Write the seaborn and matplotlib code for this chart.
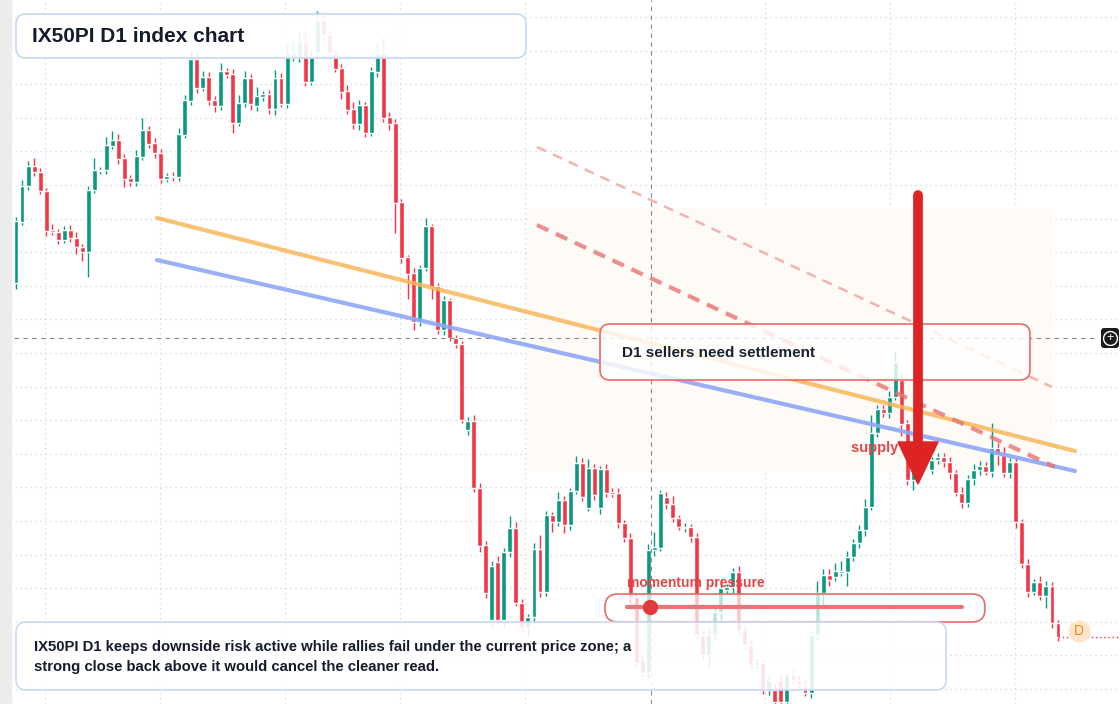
import numpy as np
import pandas as pd
import matplotlib
matplotlib.use("Agg")
import matplotlib.pyplot as plt
from matplotlib.patches import FancyBboxPatch, Rectangle, Polygon
import seaborn as sns

# prices (index level units), one row = 10 sessions
opens = [
    417, 478, 514, 534, 528, 509, 470, 468, 460, 470,
    462, 453, 448, 510, 529, 530, 554, 560, 542, 522,
    518, 543, 570, 557, 547, 521, 524, 523, 565, 599,
    641, 612, 623, 600, 594, 629, 626, 577, 597, 622,
    594, 603, 606, 591, 622, 596, 642, 642, 658, 618,
    647, 680, 665, 647, 632, 609, 591, 576, 595, 567,
    628, 647, 583, 577, 498, 443, 427, 378, 432, 474,
    414, 370, 400, 362, 356, 270, 279, 212, 155, 80,
    138, 80, 148, 172, 97, 72, 83, 151, 108, 185,
    178, 200, 175, 209, 237, 192, 232, 192, 231, 208,
    207, 177, 162, 103, 40, 27, 150, 152, 203, 196,
    182, 172, 173, 163, 65, 45, 65, 88, 110, 113,
    128, 70, 55, 35, 37, 10, 10, 20, -2, 25,
    20, 15, 7, 65, 107, 125, 123, 127, 128, 143,
    157, 170, 193, 267, 291, 287, 303, 320, 277, 220,
    237, 240, 230, 240, 243, 238, 227, 207, 197, 221,
    230, 234, 228, 252, 245, 227, 238, 178, 136, 108,
    118, 104, 114, 77,
]
closes = [
    479, 514, 534, 528, 509, 469, 468, 460, 470, 462,
    453, 448, 510, 530, 530, 555, 560, 541, 521, 518,
    544, 570, 556, 547, 521, 524, 523, 566, 600, 641,
    612, 623, 599, 594, 629, 625, 577, 597, 622, 596,
    604, 606, 591, 622, 596, 647, 647, 658, 618, 643,
    680, 665, 647, 631, 608, 590, 576, 595, 567, 629,
    647, 582, 576, 497, 442, 426, 378, 432, 474, 413,
    370, 400, 362, 356, 280, 279, 212, 154, 107, 134,
    80, 148, 172, 97, 72, 83, 151, 108, 185, 178,
    200, 175, 209, 237, 203, 232, 205, 231, 207, 206,
    177, 162, 103, 37, 27, 150, 153, 207, 196, 182,
    173, 173, 163, 65, 45, 65, 88, 112, 113, 128,
    70, 55, 35, 38, 10, 20, -2, -2, 25, 20,
    15, 7, 65, 107, 125, 120, 129, 129, 143, 157,
    170, 193, 267, 291, 287, 303, 338, 276, 220, 237,
    243, 243, 240, 243, 238, 227, 207, 197, 221, 230,
    234, 228, 252, 245, 227, 238, 178, 136, 108, 118,
    104, 114, 77, 63,
]
wick_hi = [
    4, 6, 5, 8, 4, 3, 6, 3, 4, 5,
    6, 3, 4, 12, 3, 8, 9, 6, 4, 3,
    6, 12, 4, 5, 4, 3, 4, 6, 5, 9,
    8, 6, 5, 4, 8, 3, 5, 8, 7, 4,
    9, 3, 4, 8, 5, 8, 12, 9, 10, 7,
    9, 6, 4, 3, 4, 6, 7, 5, 3, 4,
    9, 15, 5, 4, 3, 2, 5, 3, 8, 2,
    3, 4, 2, 3, 3, 4, 6, 5, 4, 5,
    6, 4, 12, 6, 4, 3, 6, 14, 4, 3,
    8, 4, 3, 7, 5, 9, 4, 3, 5, 4,
    5, 3, 5, 4, 4, 6, 15, 3, 5, 8,
    3, 4, 3, 4, 5, 6, 5, 9, 3, 4,
    6, 4, 5, 3, 4, 5, 6, 5, 3, 5,
    4, 6, 4, 12, 6, 6, 8, 10, 6, 4,
    5, 8, 18, 4, 4, 6, 10, 6, 3, 3,
    8, 5, 3, 4, 4, 5, 3, 6, 4, 6,
    5, 4, 25, 5, 8, 4, 5, 3, 5, 3,
    6, 5, 4, 3,
]
wick_lo = [
    6, 3, 4, 4, 3, 5, 3, 4, 3, 4,
    7, 9, 25, 3, 3, 4, 3, 5, 8, 4,
    4, 3, 4, 5, 4, 3, 4, 4, 3, 4,
    5, 3, 4, 6, 4, 3, 10, 3, 4, 6,
    5, 4, 5, 6, 3, 4, 3, 4, 4, 3,
    5, 6, 4, 3, 7, 4, 5, 6, 4, 3,
    5, 4, 6, 30, 5, 25, 8, 4, 3, 12,
    4, 5, 3, 4, 3, 5, 4, 6, 5, 8,
    4, 7, 5, 3, 4, 8, 6, 5, 4, 10,
    4, 8, 5, 3, 4, 3, 5, 6, 4, 3,
    5, 4, 6, 4, 3, 5, 6, 3, 5, 4,
    3, 4, 5, 3, 4, 12, 4, 8, 4, 6,
    4, 5, 4, 3, 4, 5, 3, 4, 5, 3,
    4, 3, 5, 4, 15, 6, 4, 3, 14, 4,
    5, 6, 3, 4, 4, 5, 3, 12, 5, 10,
    4, 6, 4, 4, 5, 6, 3, 5, 4, 6,
    5, 3, 5, 10, 4, 5, 6, 4, 5, 3,
    4, 12, 5, 4,
]

n = min(len(opens), len(closes), len(wick_hi), len(wick_lo))
df = pd.DataFrame({"i": np.arange(n), "open": opens[:n], "close": closes[:n],
                   "wh": wick_hi[:n], "wl": wick_lo[:n]})
df["high"] = df[["open", "close"]].max(axis=1) + df["wh"]
df["low"] = df[["open", "close"]].min(axis=1) - df["wl"]

GREEN, RED = "#089981", "#f23645"
W, H = 1120, 704
X0 = 16
PITCH = (1058 - X0) / (n - 1)

def dx(x):
    return (x - X0) / PITCH
def dy(y):
    return 700 - y

sns.set_theme(style="white")
plt.rcParams["font.family"] = ["Liberation Sans", "DejaVu Sans"]
fig = plt.figure(figsize=(W / 100, H / 100), dpi=100)
ax = fig.add_axes([0, 0, 1, 1])
ax.set_xlim(dx(0), dx(W))
ax.set_ylim(dy(H), dy(0))
ax.axis("off")

for gx in [45, 160, 285, 400, 525, 765, 890, 1015]:
    ax.axvline(dx(gx), color="#d0d4da", lw=0.9, ls=(0, (1, 3)), zorder=0)
for gy in np.arange(17, 704, 33.6):
    ax.axhline(dy(gy), color="#d0d4da", lw=0.9, ls=(0, (1, 3)), zorder=0)
ax.add_patch(Rectangle((dx(0), dy(H)), dx(11) - dx(0), 704, color="#ececec", zorder=0))

ax.add_patch(Rectangle((dx(527), dy(472)), dx(1052) - dx(527), 264,
             fc="#fefaf6", ec="none", zorder=0.5))

up = df["close"] >= df["open"]
colors = np.where(up, GREEN, RED)
ax.vlines(df["i"], df["low"], df["high"], colors=colors, lw=1, zorder=2)
bottoms = np.minimum(df["open"], df["close"])
heights = np.maximum(np.abs(df["close"] - df["open"]), 1.2)
ax.bar(df["i"], heights, bottom=bottoms, width=0.82, color=colors, zorder=2)

ax.axvline(dx(651), color="#888", lw=0.8, ls=(0, (4, 4)), zorder=3)
ax.plot([dx(14), dx(1098)], [dy(338), dy(338)], color="#888", lw=0.8, ls=(0, (4, 4)), zorder=3)

def seg(x1, y1, x2, y2, **kw):
    d = pd.DataFrame({"x": [dx(x1), dx(x2)], "y": [dy(y1), dy(y2)]})
    sns.lineplot(data=d, x="x", y="y", ax=ax, **kw)

seg(157, 218, 1075, 451, color="#f9b65a", lw=3, alpha=0.85, zorder=4)
seg(157, 260, 1075, 471, color="#8ea7f5", lw=3, alpha=0.9, zorder=4)
seg(537, 225, 1055, 467, color="#e77373", lw=3, alpha=0.8, ls=(0, (3, 2)), zorder=4)
seg(537, 147, 1052, 387, color="#f0a0a0", lw=1.8, alpha=0.8, ls=(0, (4, 3)), zorder=4)
ax.set_xlabel(""); ax.set_ylabel("")

def box(x1, y1, x2, y2, ec, fc="white", alpha=1.0, r=10, lw=1.2, z=6):
    ax.add_patch(FancyBboxPatch((dx(x1), dy(y2)), dx(x2) - dx(x1), y2 - y1,
                 boxstyle=f"round,pad=0,rounding_size={r / PITCH}", fc=fc, ec="none",
                 alpha=alpha, zorder=z, mutation_aspect=PITCH))
    ax.add_patch(FancyBboxPatch((dx(x1), dy(y2)), dx(x2) - dx(x1), y2 - y1,
                 boxstyle=f"round,pad=0,rounding_size={r / PITCH}", fc="none", ec=ec, lw=lw,
                 zorder=z, mutation_aspect=PITCH))

box(600, 324, 1030, 380, ec="#ea6a6a", fc="white", alpha=0.82, r=10)
ax.text(dx(622), dy(353), "D1 sellers need settlement", fontsize=11, fontweight="bold",
        color="#1a2230", va="center", zorder=7)

ax.text(dx(851), dy(448), "supply zone", fontsize=10.5, fontweight="bold",
        color="#e04848", va="center", zorder=7)
ax.plot([dx(918), dx(918)], [dy(195), dy(445)], color="#dd2323", lw=7,
        solid_capstyle="round", zorder=8)
ax.add_patch(Polygon([(dx(898), dy(442)), (dx(938), dy(442)), (dx(918), dy(484))],
             closed=True, color="#dd2323", zorder=8))

box(605, 594, 985, 622, ec="#e56b6b", fc="white", alpha=0.72, r=13)
ax.plot([dx(627), dx(962)], [dy(607), dy(607)], color="#e77777", lw=3, zorder=7)
ax.plot([dx(650)], [dy(607)], "o", ms=10, color="#e03a3a", zorder=8)
ax.text(dx(627), dy(583), "momentum pressure", fontsize=10, fontweight="bold",
        color="#e04848", va="center", zorder=7)

ax.plot([dx(1058), dx(W)], [dy(637), dy(637)], color="#f23645", lw=1, ls=(0, (1, 2)), zorder=3)
ax.plot([dx(1079)], [dy(631)], "o", ms=15, color="#fde6cc", zorder=7)
ax.text(dx(1079), dy(631), "D", fontsize=10, color="#f08a10", ha="center", va="center", zorder=8)

ax.add_patch(FancyBboxPatch((dx(1101), dy(348)), dx(1119) - dx(1101), 20,
             boxstyle=f"round,pad=0,rounding_size={3 / PITCH}", fc="#1b1b1b", ec="none",
             zorder=8, mutation_aspect=PITCH))
ax.plot([dx(1110)], [dy(338)], "o", ms=10, mfc="none", mec="white", mew=1, zorder=9)
ax.text(dx(1110), dy(338.5), "+", fontsize=9, color="white", ha="center", va="center", zorder=9)

box(16, 14, 526, 58, ec="#c9d8f5", fc="white", alpha=0.9, r=10)
ax.text(dx(32), dy(36), "IX50PI D1 index chart", fontsize=15, fontweight="bold",
        color="#141c2b", va="center", zorder=7)

box(16, 622, 946, 690, ec="#c9d8f5", fc="white", alpha=0.88, r=10)
ax.text(dx(34), dy(657), "IX50PI D1 keeps downside risk active while rallies fail under the current price zone; a\n"
        "strong close back above it would cancel the cleaner read.", fontsize=10.7, fontweight="bold",
        color="#141c2b", va="center", linespacing=1.6, zorder=7)

fig.savefig("out.png", dpi=100)
